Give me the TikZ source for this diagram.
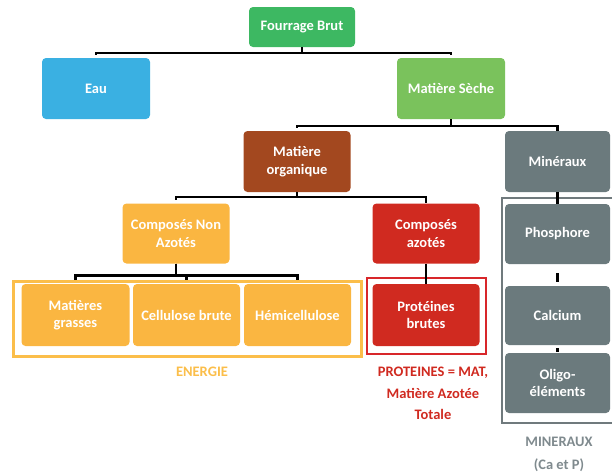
\documentclass[tikz,border=0pt]{standalone}
\usepackage{fontspec}
\setmainfont{Carlito}
\definecolor{cFB}{RGB}{61,184,98}
\definecolor{cEau}{RGB}{58,176,226}
\definecolor{cMS}{RGB}{122,194,92}
\definecolor{cMO}{RGB}{163,72,31}
\definecolor{cMin}{RGB}{107,122,125}
\definecolor{cYel}{RGB}{250,182,65}
\definecolor{cYelLine}{RGB}{251,190,74}
\definecolor{cRed}{RGB}{208,42,32}
\definecolor{cRedLine}{RGB}{216,38,42}
\definecolor{cGreyLine}{RGB}{112,122,125}
\definecolor{cGreyText}{RGB}{127,138,142}
\begin{document}
\begin{tikzpicture}[x=1pt,y=-1pt,
  nbox/.style={rectangle, rounded corners=4pt, minimum width=107pt, minimum height=61pt,
    text=white, font=\bfseries\fontsize{14.5}{17.5}\selectfont, align=center, inner sep=1pt},
  bus/.style={draw=black, line width=2.5pt},
  lbl/.style={font=\bfseries\fontsize{14.5}{21.5}\selectfont, align=center, inner sep=0pt},
]
\useasboundingbox (0,0) rectangle (612,474);

% outlines
\draw[cYelLine, line width=3pt] (13,281) rectangle (361,356);
\draw[cRedLine, line width=2.5pt] (367,278) rectangle (486,354);
\draw[cGreyLine, line width=2pt] (502,198) rectangle (618,423);

% nodes
\node[nbox, fill=cFB, minimum height=40pt, minimum width=106pt] (fb) at (302,27) {Fourrage Brut};
\node[nbox, fill=cEau, minimum width=108pt] (eau) at (96,88.5) {Eau};
\node[nbox, fill=cMS, minimum width=108pt] (ms) at (451,88.5) {Matière Sèche};
\node[nbox, fill=cMO] (mo) at (297,161.5) {Matière\\organique};
\node[nbox, fill=cMin, minimum width=105pt] (min) at (557.5,161.5) {Minéraux};
\node[nbox, fill=cYel, minimum height=60pt] (cna) at (176,233.5) {Composés Non\\Azotés};
\node[nbox, fill=cRed, minimum height=60pt] (ca) at (426,233.5) {Composés\\azotés};
\node[nbox, fill=cYel, minimum width=108pt, minimum height=62pt] (mg) at (75.5,315) {Matières\\grasses};
\node[nbox, fill=cYel, minimum height=62pt] (cb) at (186.5,315) {Cellulose brute};
\node[nbox, fill=cYel, minimum height=62pt] (hc) at (297.5,315) {Hémicellulose};
\node[nbox, fill=cRed, minimum height=62pt] (pb) at (426,315) {Protéines\\brutes};
\node[nbox, fill=cMin, minimum width=105pt, minimum height=60pt] (ph) at (557.5,234) {Phosphore};
\node[nbox, fill=cMin, minimum width=105pt, minimum height=59pt] (cal) at (557.5,315.5) {Calcium};
\node[nbox, fill=cMin, minimum width=105pt, minimum height=60pt] (oli) at (557.5,383) {Oligo-\\éléments};

% connectors
\draw[bus] (fb.south) -- ++(0,6) -| ([yshift=3pt]eau.north);
\draw[bus] (fb.south) -- ++(0,6) -| ([yshift=3pt]ms.north);
\draw[bus] (ms.south) -- ++(0,7) -| ([yshift=3pt]mo.north);
\draw[bus] (ms.south) -- ++(0,7) -| (min.north);
\draw[bus] (mo.south) -- ++(0,5) -| ([yshift=3pt]cna.north);
\draw[bus] (mo.south) -- ++(0,5) -| (ca.north);
\draw[bus] (cna.south) -- ++(0,12) -| ([yshift=4pt]mg.north);
\draw[bus] (cna.south) -- ++(0,12) -| ([yshift=4pt]cb.north);
\draw[bus] (cna.south) -- ++(0,12) -| ([yshift=4pt]hc.north);
\draw[bus] (ca.south) -- (pb.north);
\draw[bus] (min.south) -- (ph.north);
\draw[bus, shorten <=9pt, shorten >=4pt] (ph.south) -- (cal.north);
\draw[bus, shorten <=3pt, shorten >=1pt, line width=3pt] (cal.south) -- (oli.north);

% labels
\node[lbl, text=cYelLine] (energie) at (202,372) {ENERGIE};
\node[lbl, text=cRed] (prot) at (433,393.5) {PROTEINES = MAT,\\Matière Azotée\\Totale};
\node[lbl, text=cGreyText, font=\bfseries\fontsize{14.5}{23}\selectfont] (minlbl) at (559,454.5) {MINERAUX\\(Ca et P)};
\end{tikzpicture}
\end{document}
